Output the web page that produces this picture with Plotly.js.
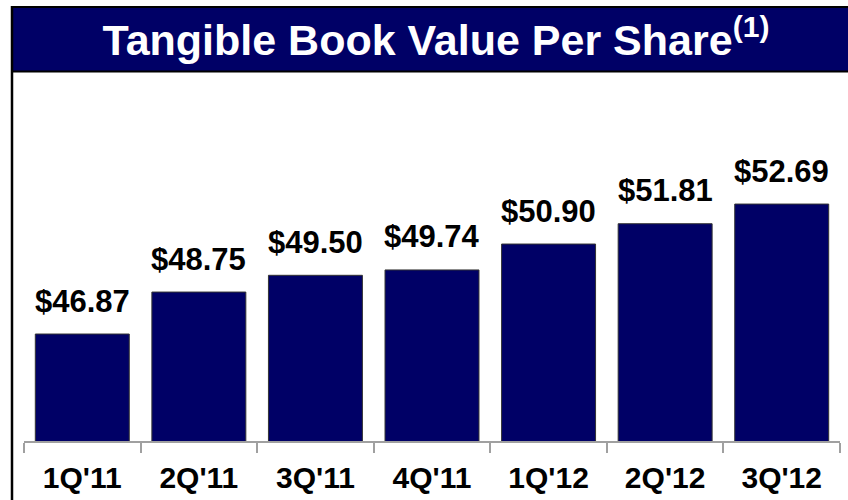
<!DOCTYPE html>
<html>
<head>
<meta charset="utf-8">
<script src="https://cdn.plot.ly/plotly-3.0.1.min.js"></script>
<style>
  html, body { margin: 0; padding: 0; background: #ffffff; }
  #chart { width: 848px; height: 500px; }
</style>
</head>
<body>
<div id="chart"></div>
<script>
// ---- Data ----
const categories = ["1Q'11", "2Q'11", "3Q'11", "4Q'11", "1Q'12", "2Q'12", "3Q'12"];
const tbvps = [46.87, 48.75, 49.50, 49.74, 50.90, 51.81, 52.69];
const valueLabels = ["$46.87", "$48.75", "$49.50", "$49.74", "$50.90", "$51.81", "$52.69"];
const chartTitle = "Tangible Book Value Per Share<sup>(1)</sup>";

// ---- Layout geometry (pixels) ----
const W = 848, H = 500;
const M = { l: 24, r: 8, t: 100, b: 59 };
const plotW = W - M.l - M.r, plotH = H - M.t - M.b;
const px = x => (x - M.l) / plotW;
const py = y => (H - M.b - y) / plotH;

const navy = '#000066';
const font = 'Liberation Sans, Arial, Helvetica, sans-serif';

const trace = {
  type: 'bar',
  x: categories,
  y: tbvps,
  marker: { color: navy, line: { color: '#333333', width: 1 } },
  hoverinfo: 'none'
};

const annotations = categories.map((c, i) => ({
  x: c, y: tbvps[i], xref: 'x', yref: 'y',
  text: valueLabels[i], showarrow: false,
  yanchor: 'middle', yshift: 33,
  font: { family: font, size: 31, color: '#000000', weight: 'bold' }
}));

const shapes = [
  { type: 'rect', xref: 'paper', yref: 'paper', x0: px(13), x1: px(850), y0: py(8), y1: py(71),
    fillcolor: navy, line: { width: 0 }, layer: 'below' },
  { type: 'line', xref: 'paper', yref: 'paper', x0: px(11), x1: px(850), y0: py(7), y1: py(7),
    line: { color: '#000000', width: 2 } },
  { type: 'line', xref: 'paper', yref: 'paper', x0: px(11), x1: px(850), y0: py(71.5), y1: py(71.5),
    line: { color: '#000000', width: 2 } },
  { type: 'line', xref: 'paper', yref: 'paper', x0: px(12), x1: px(12), y0: py(6), y1: py(502),
    line: { color: '#000000', width: 2.5 } }
];

const layout = {
  width: W, height: H,
  margin: M,
  paper_bgcolor: '#ffffff',
  plot_bgcolor: '#ffffff',
  showlegend: false,
  bargap: 0.194,
  title: {
    text: chartTitle,
    x: 436 / W, xref: 'container', xanchor: 'center',
    y: 1 - 40 / H, yref: 'container', yanchor: 'middle',
    font: { family: font, size: 43, color: '#ffffff', weight: 'bold' }
  },
  xaxis: {
    type: 'category',
    range: [-0.5, 6.5],
    showline: true, linecolor: '#a0a0a0', linewidth: 2,
    ticks: 'outside', tickson: 'boundaries', ticklen: 10, tickcolor: '#a0a0a0', tickwidth: 2,
    ticklabelstandoff: 9,
    showgrid: false, zeroline: false,
    tickfont: { family: font, size: 30, color: '#000000', weight: 'bold' },
    fixedrange: true
  },
  yaxis: {
    range: [42.08, 57.35],
    visible: false, showgrid: false, zeroline: false, fixedrange: true
  },
  annotations: annotations,
  shapes: shapes
};

Plotly.newPlot('chart', [trace], layout, { displayModeBar: false, staticPlot: true });
</script>
</body>
</html>
